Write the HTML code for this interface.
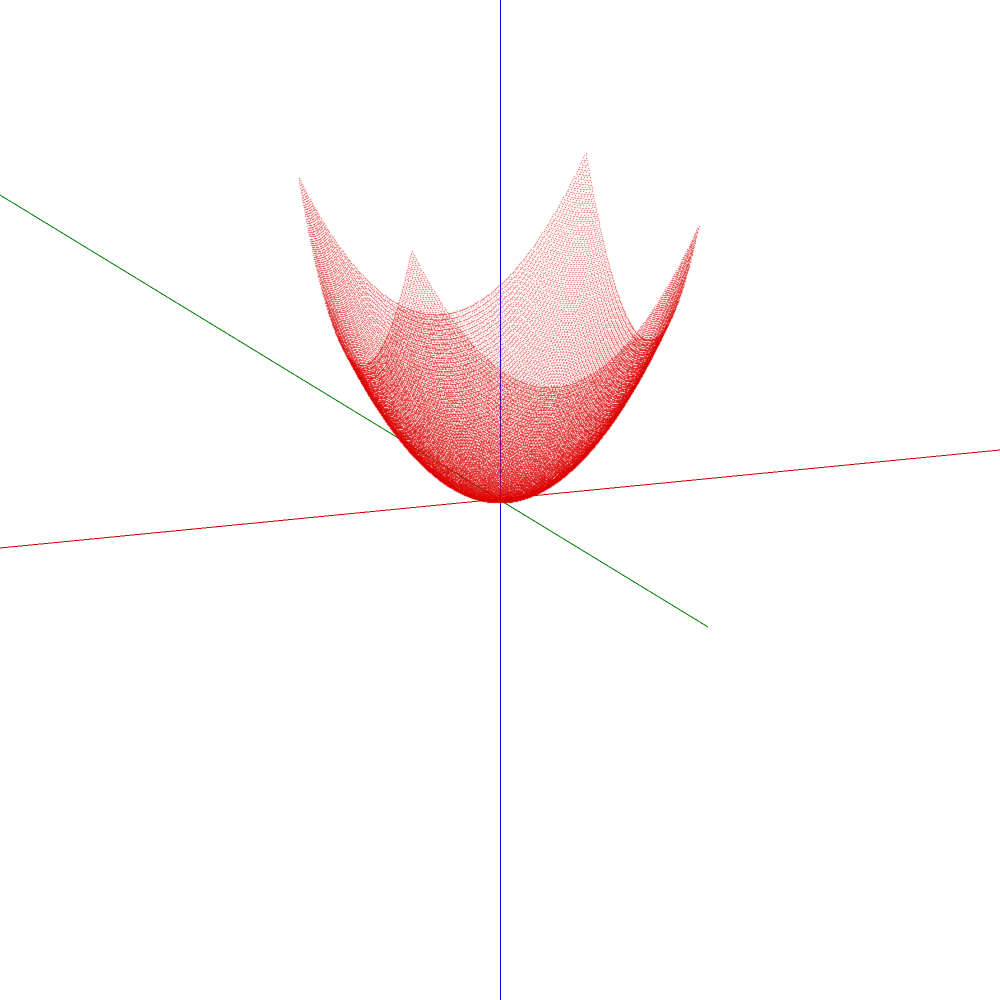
<!DOCTYPE html>
<html><head><meta charset="utf-8"><style>
html,body{margin:0;padding:0;background:#fff;width:1000px;height:1000px;overflow:hidden}
svg,canvas{position:absolute;left:0;top:0}
</style></head><body>
<div style="position:relative;width:1000px;height:1000px">
<svg width="1000" height="1000" shape-rendering="crispEdges">
<line x1="500.5" y1="0" x2="500.5" y2="1000" stroke="#0000ff" stroke-width="1"/>
<line x1="0" y1="548" x2="1000" y2="450" stroke="#cc0000" stroke-width="1"/>
<line x1="0" y1="195" x2="708" y2="627" stroke="#008000" stroke-width="1"/>
</svg>
<canvas id="c" width="1000" height="1000"></canvas>
</div>
<script>
const domain = [-1, 1];
const gridLines = 130;
const samplesPerLine = 260;
const origin = {x: 498.5, y: 500};
const ex = {x: 143.5, y: -12.5};
const ey = {x: 56.5, y: 36.5};
const ez = {x: 0, y: -149.25};
function f(x, y){ return x*x + y*y; }
function proj(x, y, z){ return [origin.x + x*ex.x + y*ey.x + z*ez.x, origin.y + x*ex.y + y*ey.y + z*ez.y]; }
const ctx = document.getElementById('c').getContext('2d');
ctx.fillStyle = 'rgba(220,0,0,0.6)';
const [a, b] = domain;
for (let i = 0; i <= gridLines; i++) {
  const u = a + (b - a) * i / gridLines;
  for (let j = 0; j <= samplesPerLine; j++) {
    const v = a + (b - a) * j / samplesPerLine;
    let p = proj(u, v, f(u, v));
    ctx.fillRect(Math.round(p[0]), Math.round(p[1]), 1, 1);
    p = proj(v, u, f(v, u));
    ctx.fillRect(Math.round(p[0]), Math.round(p[1]), 1, 1);
  }
}
</script>
</body></html>
